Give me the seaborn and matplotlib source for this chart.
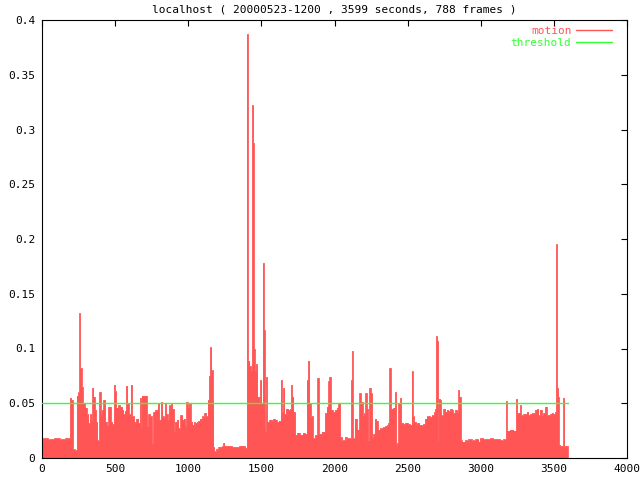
import matplotlib
matplotlib.use("Agg")
import matplotlib.pyplot as plt
import seaborn as sns
import pandas as pd

title = "localhost ( 20000523-1200 , 3599 seconds, 788 frames )"

frame_t = [
    0, 7, 40, 80, 120, 160, 191, 200, 210, 224,
    237, 246, 255, 260, 271, 278, 292, 305, 317, 328,
    337, 344, 351, 360, 369, 378, 392, 401, 410, 419,
    431, 442, 454, 470, 481, 492, 499, 506, 520, 533,
    547, 556, 565, 574, 583, 593, 606, 615, 629, 643,
    659, 670, 677, 681, 697, 716, 727, 739, 750, 761,
    773, 791, 800, 814, 823, 832, 841, 848, 859, 868,
    882, 891, 902, 909, 921, 932, 946, 960, 969, 978,
    987, 996, 1005, 1016, 1028, 1037, 1046, 1060, 1069, 1080,
    1096, 1110, 1121, 1133, 1142, 1149, 1158, 1167, 1171, 1178,
    1190, 1206, 1233, 1240, 1247, 1300, 1350, 1388, 1400, 1407,
    1418, 1427, 1436, 1443, 1447, 1454, 1463, 1472, 1486, 1491,
    1500, 1509, 1516, 1523, 1532, 1539, 1555, 1571, 1582, 1593,
    1605, 1618, 1632, 1639, 1650, 1657, 1668, 1684, 1696, 1703,
    1709, 1719, 1730, 1746, 1764, 1782, 1798, 1810, 1819, 1828,
    1837, 1851, 1867, 1883, 1892, 1912, 1935, 1947, 1958, 1965,
    1974, 1988, 2004, 2017, 2027, 2038, 2049, 2072, 2083, 2113,
    2120, 2124, 2138, 2152, 2170, 2179, 2193, 2202, 2211, 2220,
    2229, 2238, 2247, 2257, 2266, 2275, 2284, 2295, 2311, 2329,
    2345, 2357, 2368, 2375, 2384, 2402, 2414, 2421, 2430, 2437,
    2448, 2455, 2471, 2485, 2500, 2516, 2527, 2534, 2543, 2557,
    2566, 2580, 2596, 2607, 2619, 2630, 2642, 2653, 2664, 2680,
    2689, 2694, 2701, 2708, 2712, 2722, 2726, 2729, 2745, 2756,
    2768, 2779, 2790, 2802, 2808, 2824, 2836, 2847, 2854, 2863,
    2870, 2893, 2915, 2938, 2961, 2984, 2995, 3018, 3041, 3063,
    3086, 3109, 3132, 3155, 3173, 3177, 3200, 3223, 3241, 3248,
    3269, 3275, 3291, 3314, 3326, 3337, 3348, 3371, 3383, 3394,
    3405, 3417, 3428, 3440, 3451, 3474, 3485, 3496, 3508, 3515,
    3521, 3528, 3533, 3542, 3564, 3571, 3578, 3599,
]

motion = [
    0.015, 0.018, 0.017, 0.018, 0.017, 0.018, 0.055, 0.053, 0.008, 0.007,
    0.057, 0.060, 0.132, 0.082, 0.065, 0.050, 0.046, 0.040, 0.032, 0.040,
    0.034, 0.064, 0.056, 0.044, 0.033, 0.016, 0.060, 0.040, 0.044, 0.053,
    0.033, 0.030, 0.047, 0.033, 0.031, 0.067, 0.061, 0.046, 0.048, 0.047,
    0.044, 0.040, 0.043, 0.066, 0.050, 0.040, 0.067, 0.038, 0.033, 0.036,
    0.032, 0.055, 0.027, 0.057, 0.057, 0.029, 0.040, 0.038, 0.013, 0.042,
    0.044, 0.050, 0.035, 0.051, 0.038, 0.036, 0.050, 0.040, 0.035, 0.048,
    0.050, 0.045, 0.024, 0.033, 0.035, 0.027, 0.039, 0.035, 0.036, 0.029,
    0.051, 0.046, 0.050, 0.033, 0.030, 0.033, 0.032, 0.033, 0.034, 0.036,
    0.038, 0.041, 0.038, 0.053, 0.075, 0.101, 0.080, 0.052, 0.010, 0.006,
    0.008, 0.010, 0.011, 0.014, 0.011, 0.010, 0.011, 0.009, 0.387, 0.089,
    0.084, 0.080, 0.322, 0.288, 0.100, 0.080, 0.086, 0.056, 0.052, 0.071,
    0.050, 0.178, 0.117, 0.024, 0.074, 0.033, 0.035, 0.034, 0.036, 0.035,
    0.033, 0.034, 0.071, 0.042, 0.064, 0.040, 0.045, 0.044, 0.045, 0.067,
    0.056, 0.042, 0.021, 0.023, 0.021, 0.023, 0.022, 0.071, 0.089, 0.050,
    0.038, 0.018, 0.021, 0.073, 0.022, 0.024, 0.041, 0.047, 0.070, 0.074,
    0.044, 0.042, 0.044, 0.046, 0.050, 0.019, 0.016, 0.019, 0.018, 0.071,
    0.098, 0.018, 0.036, 0.026, 0.059, 0.051, 0.039, 0.041, 0.059, 0.045,
    0.016, 0.064, 0.059, 0.019, 0.022, 0.036, 0.034, 0.026, 0.027, 0.028,
    0.029, 0.030, 0.032, 0.082, 0.045, 0.046, 0.060, 0.012, 0.014, 0.050,
    0.055, 0.032, 0.031, 0.032, 0.031, 0.030, 0.079, 0.038, 0.033, 0.030,
    0.032, 0.030, 0.030, 0.031, 0.036, 0.038, 0.038, 0.037, 0.039, 0.042,
    0.045, 0.111, 0.107, 0.016, 0.054, 0.053, 0.041, 0.039, 0.045, 0.042,
    0.044, 0.043, 0.045, 0.044, 0.041, 0.044, 0.042, 0.062, 0.056, 0.016,
    0.015, 0.016, 0.017, 0.016, 0.017, 0.015, 0.018, 0.017, 0.017, 0.018,
    0.017, 0.017, 0.016, 0.017, 0.052, 0.025, 0.026, 0.025, 0.054, 0.041,
    0.048, 0.039, 0.040, 0.042, 0.039, 0.040, 0.041, 0.044, 0.045, 0.039,
    0.044, 0.039, 0.041, 0.047, 0.039, 0.040, 0.041, 0.040, 0.042, 0.195,
    0.064, 0.056, 0.012, 0.011, 0.055, 0.010, 0.011, 0.011,
]

threshold_t = [0, 3599]
threshold = [0.05, 0.05]

x_ticks = [0, 500, 1000, 1500, 2000, 2500, 3000, 3500, 4000]
y_ticks = [0, 0.05, 0.1, 0.15, 0.2, 0.25, 0.3, 0.35, 0.4]
y_labels = ["0", "0.05", "0.1", "0.15", "0.2", "0.25", "0.3", "0.35", "0.4"]

RED = "#ff5555"
GREEN = "#33ff33"

sns.set_style("white")
plt.rcParams["font.family"] = ["DejaVu Sans Mono", "DejaVu Sans"]
FS = 8

df = pd.DataFrame({"t": frame_t, "motion": motion})
dth = pd.DataFrame({"t": threshold_t, "threshold": threshold})

fig = plt.figure(figsize=(6.4, 4.8), dpi=100)
ax = fig.add_axes([42 / 640, 22 / 480, 585 / 640, 438 / 480])

ax.fill_between(df["t"], 0, df["motion"], step="post", color=RED, lw=0)
sns.lineplot(data=df, x="t", y="motion", ax=ax, drawstyle="steps-post",
             color=RED, lw=0.6, label="motion", estimator=None)
sns.lineplot(data=dth, x="t", y="threshold", ax=ax, color=GREEN, lw=1.0,
             label="threshold", estimator=None, zorder=5)

ax.set_xlim(0, 4000)
ax.set_ylim(0, 0.4)
ax.set_xticks(x_ticks)
ax.set_xticklabels([str(v) for v in x_ticks])
ax.set_yticks(y_ticks)
ax.set_yticklabels(y_labels)
ax.set_xlabel("")
ax.set_ylabel("")
for s in ax.spines.values():
    s.set_visible(True)
    s.set_color("black")
    s.set_linewidth(0.8)
ax.tick_params(direction="in", length=4, width=0.8, top=True, right=True,
               labelsize=FS, colors="black")
ax.tick_params(axis="y", pad=5)
ax.tick_params(axis="x", pad=4)

leg = ax.legend(loc="upper right", bbox_to_anchor=((612 - 42) / 585, (458 - 26) / 438),
                frameon=False, markerfirst=False, labelcolor="linecolor",
                handlelength=3.2, handletextpad=0.45, labelspacing=0.2,
                borderpad=0, borderaxespad=0, fontsize=FS)
for h in leg.legend_handles:
    h.set_linewidth(1.0)

fig.text((42 + 627) / 2 / 640, 1 - 10 / 480, title, ha="center", va="center",
         fontsize=FS, color="black")

fig.savefig("out.png", dpi=100)
